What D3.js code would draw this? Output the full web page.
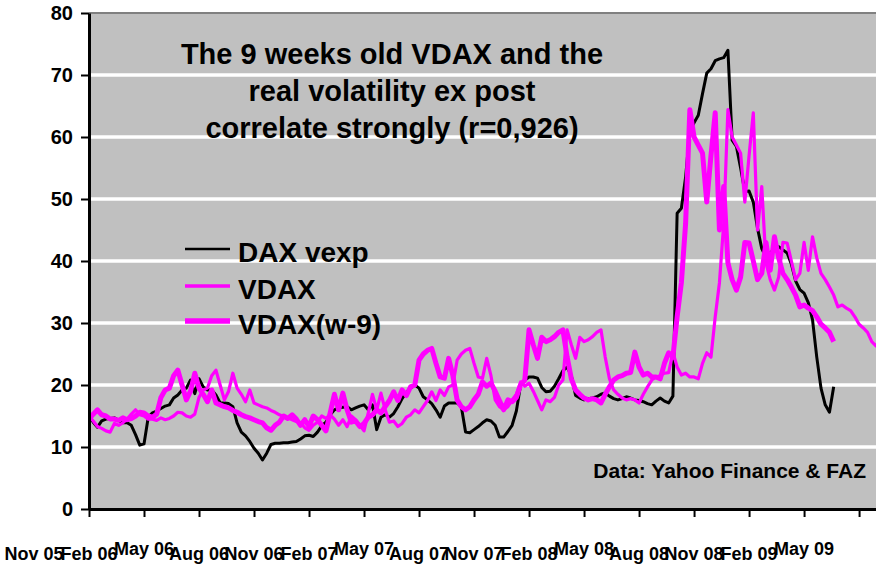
<!DOCTYPE html>
<html><head><meta charset="utf-8">
<script src="https://cdn.jsdelivr.net/npm/d3@7"></script>
<style>
body{margin:0;background:#fff}
svg{display:block}
text{font-family:"Liberation Sans",Arial,sans-serif;font-weight:bold;fill:#000}
</style>
</head><body>
<svg id="chart" width="876" height="567"></svg>
<script>
// ---- data ----
const xTickLabels = ["Nov 05","Feb 06","May 06","Aug 06","Nov 06","Feb 07","May 07","Aug 07","Nov 07","Feb 08","May 08","Aug 08","Nov 08","Feb 09","May 09"];
const yTicks = [0,10,20,30,40,50,60,70,80];
const weeksPerTick = 13;
const legendNames = ["DAX vexp","VDAX","VDAX(w-9)"];
const seriesColors = ["#000000","#FF00FF","#FF00FF"];

// realised DAX volatility ex post, weekly (from week 0)
const daxVexp = [
15.0,14.0,13.2,14.2,14.5,14.6,14.7,14.3,13.9,13.9,13.5,12.0,10.3,10.5,14.8,15.5,15.8,16.2,16.6,16.8,
17.9,18.4,19.2,19.5,20.8,18.6,21.0,19.7,19.2,19.2,18.4,17.1,17.1,17.0,16.5,13.9,12.4,11.8,10.9,9.8,
9.0,7.9,9.0,10.4,10.6,10.6,10.7,10.7,10.8,10.9,11.3,11.8,11.9,11.7,12.4,13.4,14.0,15.2,16.0,16.3,
16.4,16.5,16.0,16.3,16.6,16.8,16.0,16.8,12.8,14.8,15.2,14.8,15.4,16.5,17.8,18.8,19.5,20.0,19.5,18.1,
17.6,17.0,16.0,14.8,16.6,17.1,17.1,17.1,16.5,12.4,12.3,12.8,13.3,13.9,14.4,14.2,13.5,11.6,11.6,12.5,
13.5,15.8,20.0,20.8,21.3,21.3,21.1,19.6,18.9,19.0,19.8,21.0,22.3,22.9,21.5,18.3,17.9,17.6,17.8,17.9,
18.1,18.5,18.7,18.2,17.8,17.6,17.8,18.1,17.9,17.6,17.5,17.3,17.0,16.8,17.4,17.9,17.4,17.1,18.2,47.7,
48.5,53.5,61.0,62.3,63.5,67.0,70.3,71.0,72.3,72.6,72.8,74.0,59.5,58.5,55.0,51.2,51.3,49.5,45.3,42.0,
40.6,41.3,42.0,42.3,41.8,41.3,39.5,36.8,35.4,34.8,33.3,30.5,24.5,19.5,16.8,15.6,19.7];

// VDAX(w-9), weekly (from week 0): the thick line that ends with DAX vexp
const vdaxW9 = [
14.5,15.3,16.0,15.2,15.0,14.5,14.5,14.3,14.7,14.4,14.6,15.0,15.6,15.5,15.0,14.8,15.3,18.0,19.2,19.5,
21.5,22.4,20.0,17.6,19.0,21.9,19.5,18.5,17.3,19.2,17.1,16.8,16.5,16.3,15.9,15.6,15.2,14.9,14.7,14.4,
14.1,13.9,13.1,12.7,13.5,14.0,15.0,14.6,15.2,14.5,13.5,14.4,13.3,15.0,14.4,13.5,12.6,15.5,18.5,16.0,
18.7,16.0,14.0,14.2,13.3,13.8,14.8,15.2,16.0,15.5,16.5,17.5,18.9,17.5,19.2,18.3,19.7,20.0,24.0,25.0,
25.6,25.9,23.5,21.3,21.1,24.3,21.5,17.6,16.5,16.0,16.5,17.6,18.5,20.5,19.8,20.3,19.0,17.5,16.0,17.6,
17.3,18.0,20.0,20.8,28.9,26.5,24.3,27.7,27.0,27.3,27.8,28.5,28.9,24.5,21.0,19.2,18.5,17.9,17.6,17.8,
17.6,17.1,18.5,19.7,20.8,21.3,21.5,21.9,22.0,25.3,22.9,21.6,21.9,21.3,21.3,21.0,23.5,25.2,24.5,31.0,
36.5,46.0,64.4,60.0,58.7,57.4,49.5,57.0,63.9,45.0,52.0,39.7,37.0,35.3,37.4,43.0,42.9,40.0,37.0,38.0,
43.0,38.5,43.9,40.5,38.0,37.0,35.8,34.5,32.6,32.9,32.4,32.0,31.0,29.8,29.2,28.5,27.0];

// VDAX readings of the 9 weeks before week 0 and after the last week of VDAX(w-9)
const vdaxLeadIn = [15.0,14.2,13.3,13.0,12.6,12.4,13.8,13.5,13.9];
const vdaxTail = [26.3,27.3];

// VDAX: the same weekly readings, nine weeks later on the axis (the thin line)
const vdax = vdaxLeadIn.concat(vdaxW9, vdaxTail);

// ---- chart ----
const svg = d3.select("#chart");
const L = 89, R = 876, T = 13, B = 509;
const x = d3.scaleLinear().domain([0, 186]).range([L, R]);
const y = d3.scaleLinear().domain([0, 80]).range([B, T]);

svg.append("defs").append("clipPath").attr("id","clip")
  .append("rect").attr("x",L).attr("y",T-4).attr("width",R-L).attr("height",B-T+4);

svg.append("rect").attr("x",L).attr("y",T).attr("width",R-L).attr("height",B-T).attr("fill","#C0C0C0");

// grid
svg.append("g").selectAll("line").data(yTicks.filter(d => d>0 && d<80)).join("line")
  .attr("x1",L).attr("x2",R).attr("y1",d=>y(d)).attr("y2",d=>y(d))
  .attr("stroke","#fff").attr("stroke-width",3.5);
svg.append("line").attr("x1",L).attr("x2",R).attr("y1",T).attr("y2",T)
  .attr("stroke","#808080").attr("stroke-width",2);

// lines
const line = d3.line().x((d,i)=>x(i)).y(d=>y(d)).curve(d3.curveLinear);
const gl = svg.append("g").attr("clip-path","url(#clip)");
const series = [daxVexp, vdax, vdaxW9];
const widths = [3, 3.2, 5];
const legendWidths = [2.5, 3.5, 5.5];
series.forEach((s,k)=>{
  gl.append("path").datum(s).attr("d",line).attr("fill","none")
    .attr("stroke",seriesColors[k]).attr("stroke-width",widths[k])
    .attr("stroke-linejoin","round").attr("stroke-linecap","butt");
});

// axes
const yAxis = d3.axisLeft(y).tickValues(yTicks).tickSize(8).tickSizeOuter(0).tickPadding(8).tickFormat(d3.format("d"));
const gy = svg.append("g").attr("transform",`translate(${L},0)`).call(yAxis);
gy.select(".domain").attr("stroke","#000").attr("stroke-width",3);
gy.selectAll(".tick line").attr("stroke","#000").attr("stroke-width",2);
gy.selectAll(".tick text").attr("font-size",20).attr("font-family","Liberation Sans, Arial, sans-serif").attr("font-weight","bold").attr("fill","#000");

const xTickVals = d3.range(0, 187, weeksPerTick);
const xAxis = d3.axisBottom(x).tickValues(xTickVals).tickSize(8).tickSizeOuter(0).tickFormat("");
const gx = svg.append("g").attr("transform",`translate(0,${B})`).call(xAxis);
gx.select(".domain").attr("stroke","#000").attr("stroke-width",3);
gx.selectAll(".tick line").attr("stroke","#000").attr("stroke-width",2);

// category labels
svg.append("g").selectAll("text").data(xTickLabels).join("text")
  .attr("x",(d,i)=>x(weeksPerTick*(i-1)))
  .attr("y",d=> d.startsWith("May") ? 555 : 560)
  .attr("text-anchor","middle").attr("font-size",18)
  .text(d=>d);

// title
const titleLines = ["The 9 weeks old VDAX and the","real volatility ex post","correlate strongly (r=0,926)"];
svg.append("g").selectAll("text").data(titleLines).join("text")
  .attr("x",392).attr("y",(d,i)=>64+i*37).attr("text-anchor","middle")
  .attr("font-size",29).text(d=>d);

// legend
const lg = svg.append("g");
legendNames.forEach((n,k)=>{
  const ly = [249,286,321][k];
  lg.append("line").attr("x1",185).attr("x2",230).attr("y1",ly).attr("y2",ly)
    .attr("stroke",seriesColors[k]).attr("stroke-width",legendWidths[k]);
  lg.append("text").attr("x",238).attr("y",[262,299,334][k]).attr("font-size",28).text(n);
});

// source note
svg.append("text").attr("x",866).attr("y",478).attr("text-anchor","end").attr("font-size",21)
  .text("Data: Yahoo Finance & FAZ");
</script>
</body></html>
